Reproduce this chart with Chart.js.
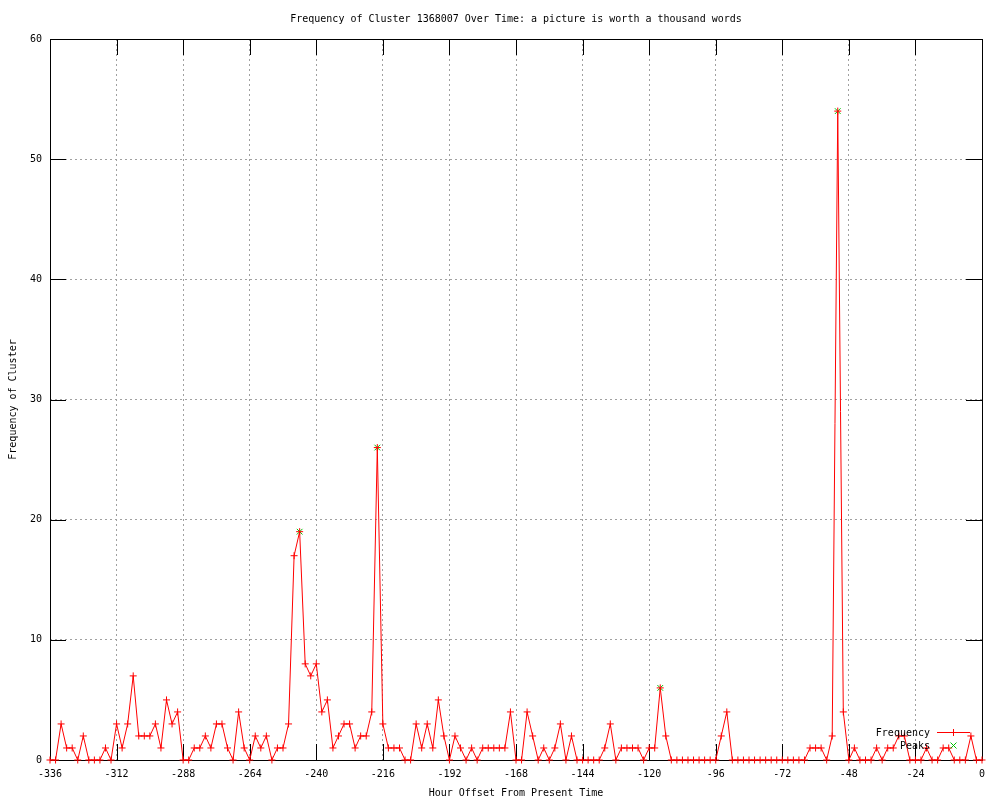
<!DOCTYPE html>
<html>
<head>
<meta charset="utf-8">
<script src="https://cdn.jsdelivr.net/npm/chart.js@4.4.1/dist/chart.umd.min.js"></script>
<style>
  html, body { margin: 0; padding: 0; background: #ffffff; }
  canvas { display: block; }
</style>
</head>
<body>
<canvas id="c" width="1000" height="800"></canvas>
<script>
// ---- data ----
const hours = [
  -336,-334,-332,-330,-328,-326,-324,-322,-320,-318,-316,-314,
  -312,-310,-308,-306,-304,-302,-300,-298,-296,-294,-292,-290,
  -288,-286,-284,-282,-280,-278,-276,-274,-272,-270,-268,-266,
  -264,-262,-260,-258,-256,-254,-252,-250,-248,-246,-244,-242,
  -240,-238,-236,-234,-232,-230,-228,-226,-224,-222,-220,-218,
  -216,-214,-212,-210,-208,-206,-204,-202,-200,-198,-196,-194,
  -192,-190,-188,-186,-184,-182,-180,-178,-176,-174,-172,-170,
  -168,-166,-164,-162,-160,-158,-156,-154,-152,-150,-148,-146,
  -144,-142,-140,-138,-136,-134,-132,-130,-128,-126,-124,-122,
  -120,-118,-116,-114,-112,-110,-108,-106,-104,-102,-100,-98,
  -96,-94,-92,-90,-88,-86,-84,-82,-80,-78,-76,-74,
  -72,-70,-68,-66,-64,-62,-60,-58,-56,-54,-52,-50,
  -48,-46,-44,-42,-40,-38,-36,-34,-32,-30,-28,-26,
  -24,-22,-20,-18,-16,-14,-12,-10,-8,-6,-4,-2,
  0
];
const frequency = [
  0,0,3,1,1,0,2,0,0,0,1,0,
  3,1,3,7,2,2,2,3,1,5,3,4,
  0,0,1,1,2,1,3,3,1,0,4,1,
  0,2,1,2,0,1,1,3,17,19,8,7,
  8,4,5,1,2,3,3,1,2,2,4,26,
  3,1,1,1,0,0,3,1,3,1,5,2,
  0,2,1,0,1,0,1,1,1,1,1,4,
  0,0,4,2,0,1,0,1,3,0,2,0,
  0,0,0,0,1,3,0,1,1,1,1,0,
  1,1,6,2,0,0,0,0,0,0,0,0,
  0,2,4,0,0,0,0,0,0,0,0,0,
  0,0,0,0,0,1,1,1,0,2,54,4,
  0,1,0,0,0,1,0,1,1,2,2,0,
  0,0,1,0,0,1,1,0,0,0,2,0,
  0
];
const peakHours  = [-246, -218, -116, -52];
const peakValues = [19, 26, 6, 54];

const xTicks = [-336,-312,-288,-264,-240,-216,-192,-168,-144,-120,-96,-72,-48,-24,0];
const yTicks = [0,10,20,30,40,50,60];

const titleText = 'Frequency of Cluster 1368007 Over Time: a picture is worth a thousand words';
const xLabelText = 'Hour Offset From Present Time';
const yLabelText = 'Frequency of Cluster';
const seriesNames = ['Frequency', 'Peaks'];

// ---- styles ----
const FONT = '10px "DejaVu Sans Mono", "Liberation Mono", monospace';
const RED = '#ff0000';
const GREEN = '#00c000';
const TICK_LEN = 16;

const freqPoints = hours.map((h, i) => ({ x: h, y: frequency[i] }));
const peakPoints = peakHours.map((h, i) => ({ x: h, y: peakValues[i] }));

const decor = {
  id: 'decor',
  beforeDatasetsDraw(chart) {
    const ctx = chart.ctx;
    const a = chart.chartArea;
    const xs = chart.scales.x, ys = chart.scales.y;
    ctx.save();
    ctx.strokeStyle = '#000000';
    ctx.lineWidth = 1;
    ctx.setLineDash([]);
    ctx.strokeRect(Math.round(a.left) + 0.5, Math.round(a.top) + 0.5,
                   Math.round(a.right - a.left), Math.round(a.bottom - a.top));
    ctx.beginPath();
    xTicks.forEach(v => {
      const px = Math.round(xs.getPixelForValue(v)) + 0.5;
      ctx.moveTo(px, a.bottom); ctx.lineTo(px, a.bottom - TICK_LEN);
      ctx.moveTo(px, a.top); ctx.lineTo(px, a.top + TICK_LEN);
    });
    yTicks.forEach(v => {
      const py = Math.round(ys.getPixelForValue(v)) + 0.5;
      ctx.moveTo(a.left, py); ctx.lineTo(a.left + TICK_LEN, py);
      ctx.moveTo(a.right, py); ctx.lineTo(a.right - TICK_LEN, py);
    });
    ctx.stroke();
    ctx.restore();
  },
  afterDatasetsDraw(chart) {
    const ctx = chart.ctx;
    const a = chart.chartArea;
    ctx.save();
    ctx.font = FONT;
    ctx.fillStyle = '#000000';
    ctx.textBaseline = 'middle';
    ctx.textAlign = 'center';
    ctx.fillText(titleText, (a.left + a.right) / 2, 19);
    ctx.fillText(xLabelText, (a.left + a.right) / 2, 793);
    ctx.save();
    ctx.translate(13, (a.top + a.bottom) / 2);
    ctx.rotate(-Math.PI / 2);
    ctx.fillText(yLabelText, 0, 0);
    ctx.restore();
    // legend
    ctx.textAlign = 'right';
    ctx.fillText(seriesNames[0], 930, 733);
    ctx.fillText(seriesNames[1], 930, 746);
    ctx.lineWidth = 1;
    ctx.strokeStyle = RED;
    ctx.beginPath();
    ctx.moveTo(937, 732.5); ctx.lineTo(970, 732.5);
    ctx.moveTo(953.5, 729); ctx.lineTo(953.5, 736);
    ctx.stroke();
    ctx.strokeStyle = GREEN;
    ctx.beginPath();
    ctx.moveTo(950.5, 742.5); ctx.lineTo(956.5, 748.5);
    ctx.moveTo(956.5, 742.5); ctx.lineTo(950.5, 748.5);
    ctx.stroke();
    ctx.restore();
  }
};

new Chart(document.getElementById('c'), {
  type: 'line',
  data: {
    datasets: [
      {
        label: seriesNames[0],
        data: freqPoints,
        borderColor: RED,
        borderWidth: 1,
        pointStyle: 'cross',
        pointRadius: 3.5,
        pointBorderColor: RED,
        pointBackgroundColor: RED,
        pointBorderWidth: 1,
        tension: 0,
        fill: false,
        clip: false,
        order: 0
      },
      {
        label: seriesNames[1],
        data: peakPoints,
        showLine: false,
        pointStyle: 'crossRot',
        pointRadius: 4,
        pointBorderColor: GREEN,
        pointBackgroundColor: GREEN,
        pointBorderWidth: 1,
        borderColor: GREEN,
        clip: false,
        order: 1
      }
    ]
  },
  options: {
    responsive: false,
    animation: false,
    devicePixelRatio: 1,
    layout: { padding: { left: 0, right: 18, top: 39, bottom: 0 } },
    plugins: {
      legend: { display: false },
      title: { display: false },
      tooltip: { enabled: false }
    },
    scales: {
      x: {
        type: 'linear',
        min: -336,
        max: 0,
        afterBuildTicks: (s) => { s.ticks = xTicks.map(v => ({ value: v })); },
        afterFit: (s) => { s.height = 40; },
        grid: { color: '#a0a0a0', lineWidth: 1, drawTicks: false },
        border: { display: false, dash: [2, 3] },
        ticks: {
          color: '#000000',
          font: { family: '"DejaVu Sans Mono", monospace', size: 10 },
          padding: 8,
          maxRotation: 0,
          autoSkip: false,
          callback: (v) => String(v)
        }
      },
      y: {
        type: 'linear',
        min: 0,
        max: 60,
        afterBuildTicks: (s) => { s.ticks = yTicks.map(v => ({ value: v })); },
        afterFit: (s) => { s.width = 50; },
        grid: { color: '#a0a0a0', lineWidth: 1, drawTicks: false },
        border: { display: false, dash: [2, 3] },
        ticks: {
          color: '#000000',
          font: { family: '"DejaVu Sans Mono", monospace', size: 10 },
          padding: 8,
          callback: (v) => String(v)
        }
      }
    }
  },
  plugins: [decor]
});
</script>
</body>
</html>
